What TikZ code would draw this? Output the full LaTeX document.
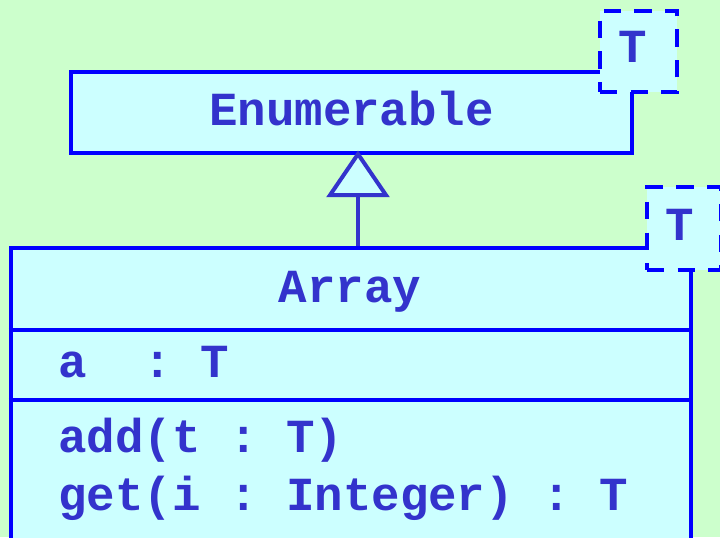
\documentclass[tikz,border=0pt]{standalone}
\usepackage{fontspec}
\setmonofont{Liberation Mono}
\usetikzlibrary{arrows.meta}
\definecolor{bg}{HTML}{CCFFCC}
\definecolor{boxfill}{HTML}{CCFFFF}
\definecolor{edge}{HTML}{0000FF}
\definecolor{ink}{HTML}{3333CC}
\begin{document}
\begin{tikzpicture}[x=0.75pt,y=-0.75pt,
  cls/.style={draw=edge, fill=boxfill, line width=3.2pt, inner sep=0pt},
  param/.style={draw=edge, fill=boxfill, line width=3.4pt, dash pattern=on 13pt off 10pt, inner sep=0pt},
  lbl/.style={text=ink, font=\ttfamily\bfseries\fontsize{35.6}{40}\selectfont, inner sep=0pt},
  divider/.style={draw=edge, line width=3.2pt},
  gen/.style={draw=ink, line width=3pt, shorten >=-3.5pt, -{Triangle[length=35pt, width=47pt, fill=boxfill, line join=miter]}}
]
\useasboundingbox (0,0) rectangle (720,537);
\fill[bg] (0,0) rectangle (720,537);
\begin{scope}
\clip (0,0) rectangle (720,537);
% Enumerable class
\node[cls, minimum width=420.75pt, minimum height=60.75pt] (enum) at (351.5,112.5) {};
\node[lbl, anchor=base] (enumname) at (351.5,125) {Enumerable};
% template parameter of Enumerable
\node[param, minimum width=58pt, minimum height=60.75pt] (tp1) at (638.5,51.5) {};
\node[lbl, anchor=base] (tp1name) at (632.5,62) {T};
% Array class
\node[cls, minimum width=510pt, minimum height=249pt] (arr) at (351,414) {};
\coordinate (d1) at (0,330);
\coordinate (d2) at (0,400);
\draw[divider] (arr.west |- d1) -- (arr.east |- d1);
\draw[divider] (arr.west |- d2) -- (arr.east |- d2);
\node[lbl, anchor=base] (arrname) at (350,302) {Array};
\node[lbl, anchor=base west] (attr) at (58,377) {a\ \ :\ T};
\node[lbl, anchor=base west] (op1) at (58,452) {add(t\ :\ T)};
\node[lbl, anchor=base west] (op2) at (58,510) {get(i\ :\ Integer)\ :\ T};
% template parameter of Array
\node[param, minimum width=55.5pt, minimum height=62pt] (tp2) at (684,228.5) {};
\node[lbl, anchor=base] (tp2name) at (680,240) {T};
% generalization
\coordinate (ax) at (358,0);
\draw[gen] (arr.north -| ax) -- (enum.south -| ax);
\end{scope}
\end{tikzpicture}
\end{document}
